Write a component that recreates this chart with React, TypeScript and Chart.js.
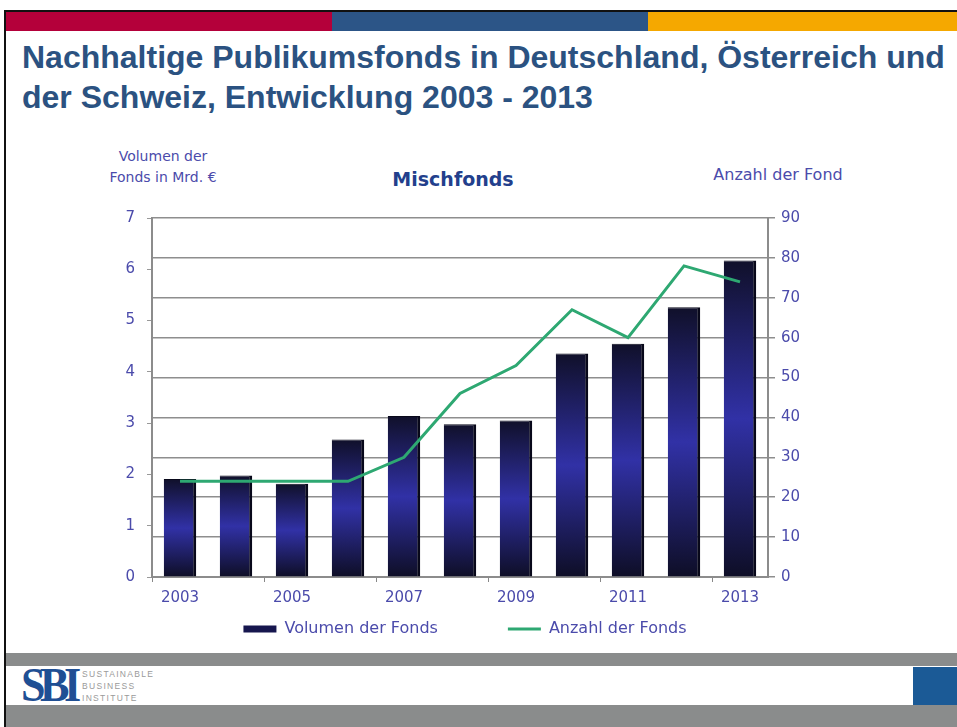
import React, { useEffect, useRef } from "react";
import { Chart, registerables } from "chart.js";

Chart.register(...registerables);

const years = ["2003", "2004", "2005", "2006", "2007", "2008", "2009", "2010", "2011", "2012", "2013"];
const volumen = [1.91, 1.98, 1.82, 2.68, 3.14, 2.98, 3.05, 4.36, 4.55, 5.26, 6.17];
const anzahl = [24, 24, 24, 24, 30, 46, 53, 67, 60, 78, 74];
const volumenLabel = "Volumen der Fonds";
const anzahlLabel = "Anzahl der Fonds";

const TICK = "#4b4bab";
const FONT = "'DejaVu Sans', Verdana, sans-serif";
const LEGEND_PAD = 70;
const LEGEND_SHIFT = 62;

const legendTweak = {
  id: "legendTweak",
  afterInit(chart: any) {
    const leg = chart.legend;
    if (!leg) return;
    const origFit = leg.fit.bind(leg);
    leg.fit = function () {
      origFit();
      this.height = 40;
    };
    const origDraw = leg.draw.bind(leg);
    leg.draw = function () {
      const t = this.top;
      this.top = t - LEGEND_SHIFT;
      origDraw();
      this.top = t;
    };
  },
};

export default function App() {
  const ref = useRef<HTMLCanvasElement | null>(null);

  useEffect(() => {
    if (!ref.current) return;
    const chart = new Chart(ref.current, {
      type: "bar",
      plugins: [legendTweak],
      data: {
        labels: years,
        datasets: [
          {
            type: "line",
            label: anzahlLabel,
            data: anzahl,
            yAxisID: "y1",
            borderColor: "#2ea872",
            backgroundColor: "#2ea872",
            borderWidth: 3,
            pointRadius: 0,
            tension: 0,
            order: 0,
          } as any,
          {
            type: "bar",
            label: volumenLabel,
            data: volumen,
            yAxisID: "y",
            categoryPercentage: 1,
            barPercentage: 0.58,
            borderColor: "#08081a",
            borderWidth: { right: 3, top: 1, left: 0, bottom: 0 },
            borderSkipped: false,
            backgroundColor: (ctx: any) => {
              const c = ctx.chart;
              const s = c.scales?.y;
              if (!s || ctx.parsed == null) return "#22227a";
              const top = s.getPixelForValue(ctx.parsed.y);
              const bot = s.getPixelForValue(0);
              if (!isFinite(top) || !isFinite(bot) || top === bot) return "#22227a";
              const g = c.ctx.createLinearGradient(0, top, 0, bot);
              g.addColorStop(0, "#10102a");
              g.addColorStop(0.5, "#3131a6");
              g.addColorStop(1, "#0e0e26");
              return g;
            },
            order: 1,
          } as any,
        ],
      },
      options: {
        animation: false,
        responsive: false,
        maintainAspectRatio: false,
        layout: { padding: { top: 10, left: 0, right: 0, bottom: 0 } },
        plugins: {
          tooltip: { enabled: false },
          legend: {
            position: "bottom",
            labels: {
              color: TICK,
              font: { family: FONT, size: 16 },
              usePointStyle: true,
              pointStyleWidth: 33,
              boxHeight: 7,
              padding: LEGEND_PAD,
              generateLabels: (c: any) => {
                const items = Chart.defaults.plugins.legend.labels.generateLabels(c);
                const out = [items[1], items[0]];
                out[0].pointStyle = "rect";
                out[0].fillStyle = "#16164e";
                out[0].strokeStyle = "#16164e";
                out[0].lineWidth = 0;
                out[1].pointStyle = "line";
                out[1].strokeStyle = "#2ea872";
                out[1].lineWidth = 3;
                return out;
              },
            },
          },
        },
        scales: {
          x: {
            offset: true,
            grid: {
              display: true,
              drawOnChartArea: false,
              offset: true,
              tickLength: 5,
              color: (ctx: any) => (ctx.index % 2 === 0 ? "#888" : "rgba(0,0,0,0)"),
            },
            border: { display: true, color: "#8c8c8c", width: 2 },
            ticks: {
              color: TICK,
              font: { family: FONT, size: 15 },
              autoSkip: false,
              maxRotation: 0,
              padding: 7,
              callback: (_v: any, i: number) => (i % 2 === 0 ? years[i] : ""),
            },
            afterFit: (s: any) => {
              s.height = 36;
            },
          },
          y: {
            position: "left",
            min: 0,
            max: 7,
            ticks: {
              stepSize: 1,
              color: TICK,
              font: { family: FONT, size: 15 },
              padding: 12,
            },
            grid: { drawOnChartArea: false, tickLength: 5, color: "#999" },
            border: { display: true, color: "#8c8c8c", width: 2 },
            afterFit: (s: any) => {
              s.width = 52;
            },
          },
          y1: {
            position: "right",
            min: 0,
            max: 90,
            ticks: {
              stepSize: 10,
              color: TICK,
              font: { family: FONT, size: 15 },
              padding: 6,
            },
            grid: { drawOnChartArea: true, tickLength: 7, color: "#8e8e8e", lineWidth: 1.5 },
            border: { display: true, color: "#8c8c8c", width: 2 },
            afterFit: (s: any) => {
              s.width = 62;
            },
          },
        },
      },
    });
    return () => chart.destroy();
  }, []);

  const arial = "'Liberation Sans', Arial, sans-serif";

  return (
    <div style={{ position: "fixed", left: 0, top: 0, width: 957, height: 727, background: "#fff", overflow: "hidden", fontFamily: arial }}>
      {/* slide border */}
      <div style={{ position: "absolute", left: 4, top: 10, width: 2, height: 717, background: "#111" }} />
      <div style={{ position: "absolute", left: 4, top: 10, width: 953, height: 2, background: "#111" }} />
      {/* colour band */}
      <div style={{ position: "absolute", left: 6, top: 12, width: 326, height: 19, background: "#b4003a" }} />
      <div style={{ position: "absolute", left: 332, top: 12, width: 316, height: 19, background: "#2c5587" }} />
      <div style={{ position: "absolute", left: 648, top: 12, width: 309, height: 19, background: "#f5a800" }} />
      {/* title */}
      <div style={{ position: "absolute", left: 22, top: 37, width: 935, color: "#2b5281", fontWeight: "bold", fontSize: 32, lineHeight: "40px", whiteSpace: "nowrap" }}>
        Nachhaltige Publikumsfonds in Deutschland, Österreich und
        <br />
        der Schweiz, Entwicklung 2003 - 2013
      </div>
      {/* axis titles */}
      <div style={{ position: "absolute", left: 93, top: 146, width: 140, textAlign: "center", color: TICK, fontFamily: FONT, fontSize: 14, lineHeight: "21px" }}>
        Volumen der
        <br />
        Fonds in Mrd. €
      </div>
      <div style={{ position: "absolute", left: 340, top: 168, width: 226, textAlign: "center", color: "#233f8c", fontFamily: FONT, fontWeight: "bold", fontSize: 19 }}>
        Mischfonds
      </div>
      <div style={{ position: "absolute", left: 690, top: 165, width: 176, textAlign: "center", color: TICK, fontFamily: FONT, fontSize: 16 }}>
        Anzahl der Fond
      </div>
      {/* chart */}
      <canvas ref={ref} width={730} height={456} style={{ position: "absolute", left: 100, top: 197, width: 730, height: 456 }} />
      {/* footer */}
      <div style={{ position: "absolute", left: 6, top: 653, width: 951, height: 13, background: "#8a8c8c" }} />
      <div style={{ position: "absolute", left: 6, top: 705, width: 951, height: 22, background: "#8a8c8c" }} />
      <div style={{ position: "absolute", left: 913, top: 667, width: 44, height: 38, background: "#1b5a96" }} />
      <div style={{ position: "absolute", left: 21, top: 660, color: "#1f4f94", fontFamily: "'Liberation Serif', 'Times New Roman', serif", fontWeight: "bold", fontSize: 48, letterSpacing: -6, lineHeight: "50px", transform: "scaleX(0.92)", transformOrigin: "left top" }}>
        SBI
      </div>
      <div style={{ position: "absolute", left: 82, top: 668, color: "#9a9a9a", fontFamily: arial, fontSize: 8.5, lineHeight: "12px", letterSpacing: 1.3 }}>
        SUSTAINABLE
        <br />
        BUSINESS
        <br />
        INSTITUTE
      </div>
    </div>
  );
}
